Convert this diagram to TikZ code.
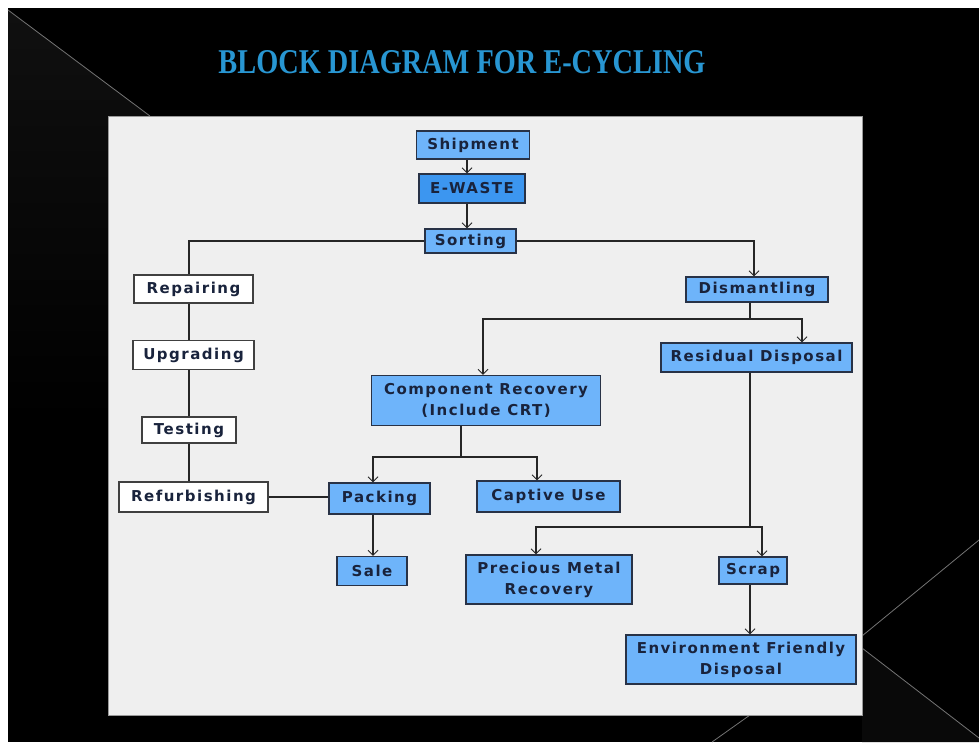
\documentclass[tikz,border=0pt]{standalone}
\usepackage{fontspec}
\usepackage{graphicx}
\usetikzlibrary{arrows.meta}
\newfontfamily\boxfont[LetterSpace=10]{DejaVu Sans}
\newfontfamily\titlefont{Liberation Serif}
\definecolor{bgblack}{RGB}{0,0,0}
\definecolor{bgdark}{RGB}{16,16,16}
\definecolor{bgdim}{RGB}{9,9,9}
\definecolor{panel}{RGB}{239,239,239}
\definecolor{lblue}{RGB}{110,180,250}
\definecolor{dblue}{RGB}{60,150,240}
\definecolor{edge}{RGB}{40,50,70}
\definecolor{txt}{RGB}{25,35,60}
\definecolor{ttl}{RGB}{40,150,210}
\tikzset{
  box/.style={draw=edge, line width=1.1pt, inner sep=0pt, align=center,
    text=txt, font=\boxfont\bfseries\fontsize{15}{21}\selectfont},
  bluebox/.style={box, fill=lblue},
  darkbox/.style={box, fill=dblue},
  whitebox/.style={box, fill=white, draw=black!75},
  conn/.style={line width=1.8pt, black!85},
  arr/.style={conn, -{Straight Barb[length=5pt,width=10pt,line width=1pt]}},
  bgline/.style={line width=0.8pt, black!55}
}
\begin{document}
\begin{tikzpicture}[x=1pt,y=-1pt]
\useasboundingbox (0,0) rectangle (979,742);
% background
\fill[white] (0,0) rectangle (979,742);
\fill[bgblack] (8,8) rectangle (979,742);
\shade[top color=bgdark, bottom color=bgblack] (8,10) -- (150,116) -- (108,116) -- (108,420) -- (8,420) -- cycle;
\draw[bgline] (8,10) -- (150,116);
\fill[bgdim] (862,648) -- (979,738) -- (979,742) -- (862,742) -- cycle;
\draw[bgline] (862,636) -- (979,540);
\draw[bgline] (862,648) -- (979,738);
\draw[bgline] (750,715) -- (712,742);
\fill[panel] (108,116) rectangle (862,715);
\draw[black!40, line width=0.6pt] (108,116) rectangle (862,715);
% title
\node (title) at (462,62) {\color{ttl}\resizebox{487pt}{23pt}{\titlefont\bfseries BLOCK DIAGRAM FOR E-CYCLING}};
% nodes
\node[bluebox, minimum width=113, minimum height=28] (ship) at (473,145) {Shipment};
\node[darkbox, minimum width=106, minimum height=29] (ewaste) at (472,188.5) {E-WASTE};
\node[bluebox, minimum width=91, minimum height=24] (sort) at (470.5,241) {Sorting};
\node[whitebox, minimum width=119, minimum height=28] (rep) at (193.5,289) {Repairing};
\node[whitebox, minimum width=121, minimum height=29] (upg) at (193.5,355) {Upgrading};
\node[whitebox, minimum width=94, minimum height=26] (test) at (189,430) {Testing};
\node[whitebox, minimum width=149, minimum height=30] (refurb) at (193.5,497) {Refurbishing};
\node[bluebox, minimum width=142, minimum height=25] (dis) at (757,289.5) {Dismantling};
\node[bluebox, minimum width=191, minimum height=29] (res) at (756.5,357.5) {Residual Disposal};
\node[bluebox, minimum width=229, minimum height=50] (comp) at (486,400.5) {Component Recovery\\(Include CRT)};
\node[bluebox, minimum width=101, minimum height=31] (pack) at (379.5,498.5) {Packing};
\node[bluebox, minimum width=143, minimum height=31] (cap) at (548.5,496.5) {Captive Use};
\node[bluebox, minimum width=70, minimum height=29] (sale) at (372,571) {Sale};
\node[bluebox, minimum width=166, minimum height=49] (prec) at (549,579.5) {Precious Metal\\Recovery};
\node[bluebox, minimum width=68, minimum height=27] (scrap) at (753,570.5) {Scrap};
\node[bluebox, minimum width=230, minimum height=49] (env) at (741,659.5) {Environment Friendly\\Disposal};
% helper coordinates
\coordinate (xtop) at (467,0);
\coordinate (xrep) at (189,0);
\coordinate (d1) at (750,319);
\coordinate (xcomp) at (483,0);
\coordinate (xres) at (802,0);
\coordinate (c1) at (461,457);
\coordinate (xpack) at (373,0);
\coordinate (xcap) at (537,0);
\coordinate (r1) at (750,527);
\coordinate (xprec) at (536,0);
\coordinate (xscrap) at (762,0);
\coordinate (xdis) at (754,0);
% connectors
\draw[arr] (ship.south -| xtop) -- (ewaste.north -| xtop);
\draw[arr] (ewaste.south -| xtop) -- (sort.north -| xtop);
\draw[conn] (sort.west) -| (rep.north -| xrep);
\draw[arr] (sort.east) -| (dis.north -| xdis);
\draw[conn] (rep.south -| xrep) -- (upg.north -| xrep);
\draw[conn] (upg.south -| xrep) -- (test.north -| xrep);
\draw[conn] (test.south -| xrep) -- (refurb.north -| xrep);
\draw[conn] (refurb.east) -- (pack.west |- refurb.east);
\draw[conn] (dis.south -| d1) -- (d1);
\draw[arr] (d1) -| (comp.north -| xcomp);
\draw[arr] (d1) -| (res.north -| xres);
\draw[conn] (comp.south -| c1) -- (c1);
\draw[arr] (c1) -| (pack.north -| xpack);
\draw[arr] (c1) -| (cap.north -| xcap);
\draw[arr] (pack.south -| xpack) -- (sale.north -| xpack);
\draw[conn] (res.south -| r1) -- (r1);
\draw[arr] (r1) -| (prec.north -| xprec);
\draw[arr] (r1) -| (scrap.north -| xscrap);
\draw[arr] (scrap.south -| r1) -- (env.north -| r1);
\end{tikzpicture}
\end{document}
